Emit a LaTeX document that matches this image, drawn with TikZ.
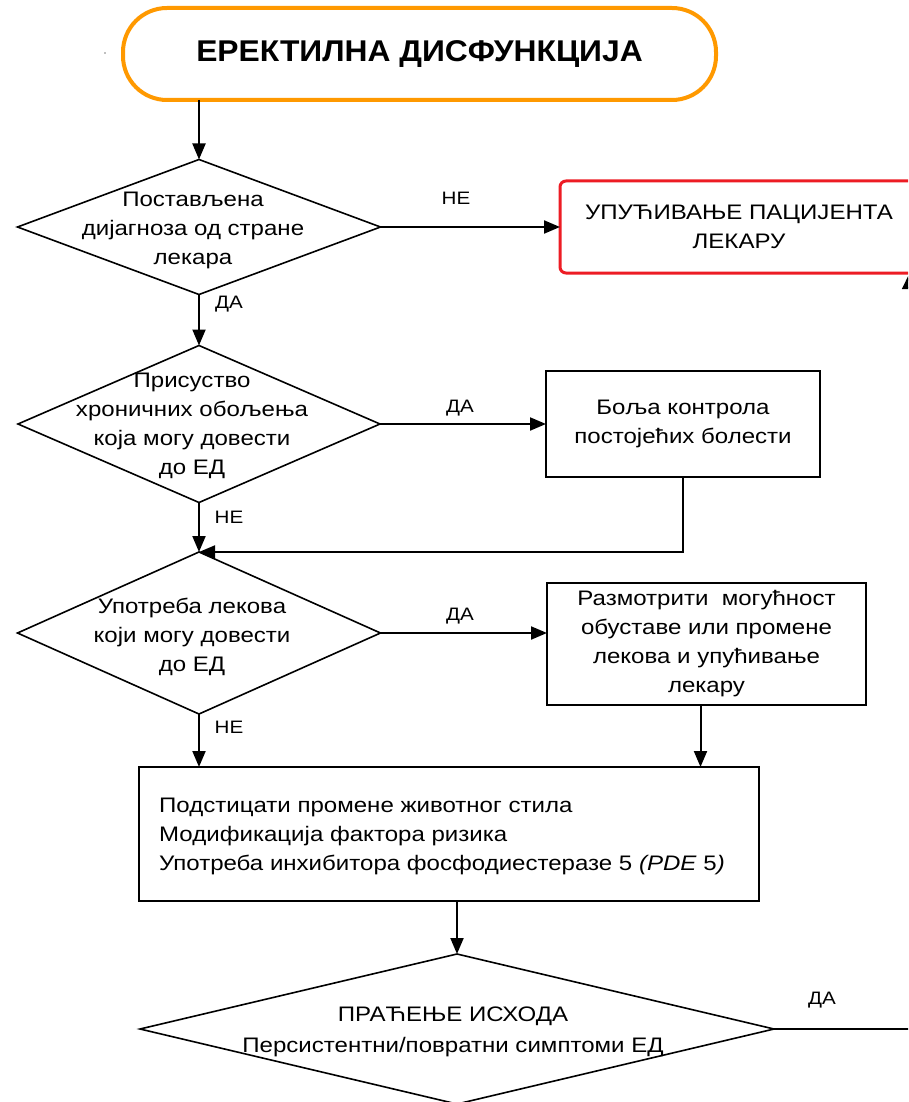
\documentclass[tikz,border=0pt]{standalone}
\usepackage{fontspec}
\setmainfont{Liberation Sans}[FakeStretch=1.145]
\newfontfamily\titlefont{Liberation Sans}[FakeStretch=1.06]
\usetikzlibrary{shapes.geometric,arrows.meta,calc}
\definecolor{torange}{RGB}{255,153,0}
\definecolor{tred}{RGB}{237,28,36}
\begin{document}
\begin{tikzpicture}[x=1pt,y=-1pt,
  every node/.style={font=\fontsize{21}{29}\selectfont},
  dia/.style={draw, diamond, line width=1.6pt, inner sep=0pt, outer sep=0pt},
  box/.style={draw, rectangle, line width=1.6pt, inner sep=0pt, outer sep=0pt},
  txt/.style={align=center, inner sep=0pt},
  lbl/.style={font=\fontsize{18}{20}\selectfont, inner sep=0pt},
  arr/.style={line width=2pt, -{Triangle[length=16pt,width=13pt]}},
  ln/.style={line width=2pt}]
\useasboundingbox (0,0) rectangle (908,1102);
\clip (0,0) rectangle (908,1102);
\fill[white] (0,0) rectangle (908,1102);

% title
\node[draw=torange, line width=4pt, rounded corners=44pt, minimum width=593pt,
  minimum height=92pt, inner sep=0pt, outer sep=0pt,
  font=\titlefont\bfseries\fontsize{30}{36}\selectfont] (title) at (419.5,54) {ЕРЕКТИЛНА ДИСФУНКЦИЈА};
\fill[gray] (105,53) circle (0.9pt);

% diamond 1
\node[dia, minimum width=363pt, minimum height=135pt] (d1) at (199,227) {};
\node[txt] at (193,230) {Постављена\\дијагноза од стране\\лекара};
\node[draw=tred, line width=3pt, rounded corners=6pt, minimum width=358pt,
  minimum height=92pt, align=center, inner sep=0pt, outer sep=0pt] (red) at (739,227)
  {УПУЋИВАЊЕ ПАЦИЈЕНТА\\ЛЕКАРУ};

% diamond 2
\node[dia, minimum width=362pt, minimum height=157pt] (d2) at (199,424) {};
\node[txt] at (192,426) {Присуство\\хроничних обољења\\која могу довести\\до ЕД};
\node[box, minimum width=274pt, minimum height=106pt, align=center] (b2) at (683,424)
  {Боља контрола\\постојећих болести};

% diamond 3
\node[dia, minimum width=363pt, minimum height=162pt] (d3) at (199,633) {};
\node[txt] at (192,637) {Употреба лекова\\који могу довести\\до ЕД};
\node[box, minimum width=319pt, minimum height=122pt, align=center] (b3) at (706.5,644)
  {Размотрити\ \ могућност\\обуставе или промене\\лекова и упућивање\\лекару};

% box 4
\node[box, minimum width=620pt, minimum height=134pt] (b4) at (449,834) {};
\node[align=left, anchor=west, inner sep=0pt] (b4t) at (159,836)
  {Подстицати промене животног стила\\Модификација фактора ризика\\Употреба инхибитора фосфодиестеразе 5 \textit{(PDE} 5\textit{)}};

% diamond 5
\node[dia, minimum width=634pt, minimum height=150pt] (d5) at (457,1029) {};
\node[txt, font=\fontsize{21}{31}\selectfont] at (453,1032) {ПРАЋЕЊЕ ИСХОДА\\Персистентни/повратни симптоми ЕД};

% connectors
\draw[arr] (title.south -| d1.north) -- (d1.north);
\draw[arr] (d1.east) -- (red.west);
\draw[arr] (d1.south) -- (d2.north);
\draw[arr] (d2.east) -- (b2.west);
\draw[arr] (d2.south) -- (d3.north);
\draw[arr] (b2.south) |- (d3.north);
\draw[arr] (d3.east) -- (d3.east -| b3.west);
\draw[arr] (d3.south) -- (d3.south |- b4.north);
\draw[arr] ([xshift=-6pt]b3.south) -- ([xshift=-6pt]b3.south |- b4.north);
\draw[arr] (b4.south -| d5.north) -- (d5.north);
\coordinate (rc) at (909.6,1029);
\draw[line width=2pt, -{Triangle[length=16pt,width=15pt]}] (d5.east) -- (rc) -- (rc |- red.south);

% labels
\node[lbl] at (456,198) {НЕ};
\node[lbl] at (229,304) {ДА};
\node[lbl] at (460,408) {ДА};
\node[lbl] at (229,517) {НЕ};
\node[lbl] at (460,616) {ДА};
\node[lbl] at (229,727) {НЕ};
\node[lbl] at (822,1000) {ДА};
\end{tikzpicture}
\end{document}
